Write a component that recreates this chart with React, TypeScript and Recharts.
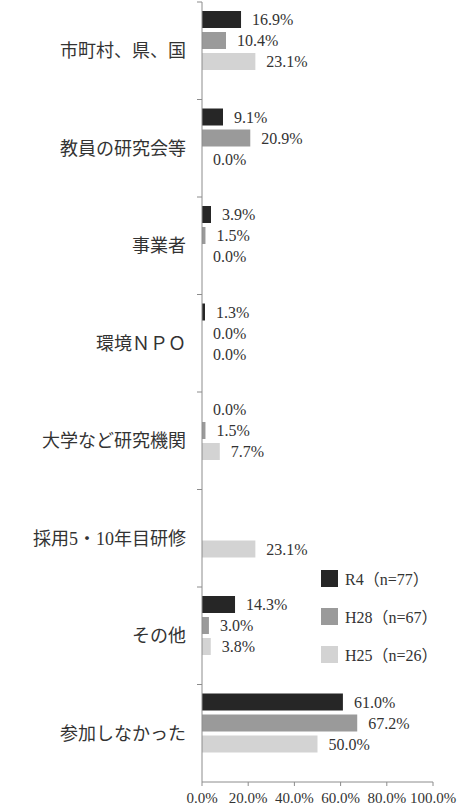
import { BarChart, Bar, XAxis, YAxis, Legend, LabelList } from 'recharts';

const categories = [
  '市町村、県、国',
  '教員の研究会等',
  '事業者',
  '環境ＮＰＯ',
  '大学など研究機関',
  '採用5・10年目研修',
  'その他',
  '参加しなかった',
];
const seriesNames = ['R4（n=77）', 'H28（n=67）', 'H25（n=26）'];
const r4 = [16.9, 9.1, 3.9, 1.3, 0.0, null, 14.3, 61.0];
const h28 = [10.4, 20.9, 1.5, 0.0, 1.5, null, 3.0, 67.2];
const h25 = [23.1, 0.0, 0.0, 0.0, 7.7, 23.1, 3.8, 50.0];
const xTicks = [0, 20, 40, 60, 80, 100];

const data = categories.map((name, i) => ({ name, r4: r4[i], h28: h28[i], h25: h25[i] }));

const AXIS = '#8c8c8c';
const TEXT = '#333';
const SERIF = '"Liberation Serif", "Noto Sans CJK JP", serif';

const pct = (v: any) => (v == null ? '' : `${Number(v).toFixed(1)}%`);

// category label + short tick at the top edge of each band (like Excel)
function CategoryTick(props: any) {
  const { x, y, payload } = props;
  const half = payload?.offset ?? 0;
  const ax = x + 16;
  return (
    <g>
      <line x1={ax - 5} x2={ax} y1={y - half} y2={y - half} stroke={AXIS} />
      <text
        x={x}
        y={y}
        dy="0.35em"
        textAnchor="end"
        fill={TEXT}
        fontSize={18}
        fontFamily={SERIF}
      >
        {payload.value}
      </text>
    </g>
  );
}

function LegendBox({ payload }: any) {
  const items = (payload ?? [])
    .filter((e: any) => seriesNames.includes(e.value))
    .sort((a: any, b: any) => seriesNames.indexOf(a.value) - seriesNames.indexOf(b.value));
  return (
    <div>
      {items.map((e: any) => (
        <div key={e.value} style={{ display: 'flex', alignItems: 'center', height: 38 }}>
          <span style={{ width: 17, height: 17, background: e.color, marginRight: 7, display: 'inline-block' }} />
          <span style={{ fontFamily: SERIF, fontSize: 16, color: TEXT, whiteSpace: 'nowrap' }}>{e.value}</span>
        </div>
      ))}
    </div>
  );
}

const labelProps = {
  position: 'right' as const,
  offset: 11,
  formatter: pct,
  fill: TEXT,
  fontSize: 16,
  fontFamily: SERIF,
};

export default function App() {
  return (
    <div style={{ position: 'absolute', left: 0, top: 0 }}>
      <BarChart
        width={459}
        height={807}
        data={data}
        layout="vertical"
        margin={{ top: 2, right: 26, bottom: 0, left: 0 }}
        barSize={17}
        barGap={4}
      >
        <XAxis
          type="number"
          domain={[0, 100]}
          ticks={xTicks}
          interval={0}
          tickFormatter={pct}
          stroke={AXIS}
          tickSize={4}
          tickMargin={6}
          height={25}
          tick={{ fill: TEXT, fontSize: 15, fontFamily: SERIF }}
        />
        <YAxis
          type="category"
          dataKey="name"
          width={202}
          stroke={AXIS}
          tickLine={false}
          tickSize={0}
          tickMargin={16}
          interval={0}
          tick={<CategoryTick />}
        />
        <Legend
          layout="vertical"
          align="center"
          verticalAlign="middle"
          content={<LegendBox />}
          wrapperStyle={{ position: 'absolute', left: 321, top: 559, width: 'auto' }}
        />
        <Bar dataKey="r4" name={seriesNames[0]} fill="#262626" minPointSize={0.01} isAnimationActive={false}>
          <LabelList dataKey="r4" {...labelProps} />
        </Bar>
        <Bar dataKey="h28" name={seriesNames[1]} fill="#9a9a9a" minPointSize={0.01} isAnimationActive={false}>
          <LabelList dataKey="h28" {...labelProps} />
        </Bar>
        <Bar dataKey="h25" name={seriesNames[2]} fill="#d3d3d3" minPointSize={0.01} isAnimationActive={false}>
          <LabelList dataKey="h25" {...labelProps} />
        </Bar>
        {/* empty slot: the original reserves room for a fourth bar per category */}
        <Bar dataKey="spare" fill="none" legendType="none" isAnimationActive={false} />
      </BarChart>
    </div>
  );
}
